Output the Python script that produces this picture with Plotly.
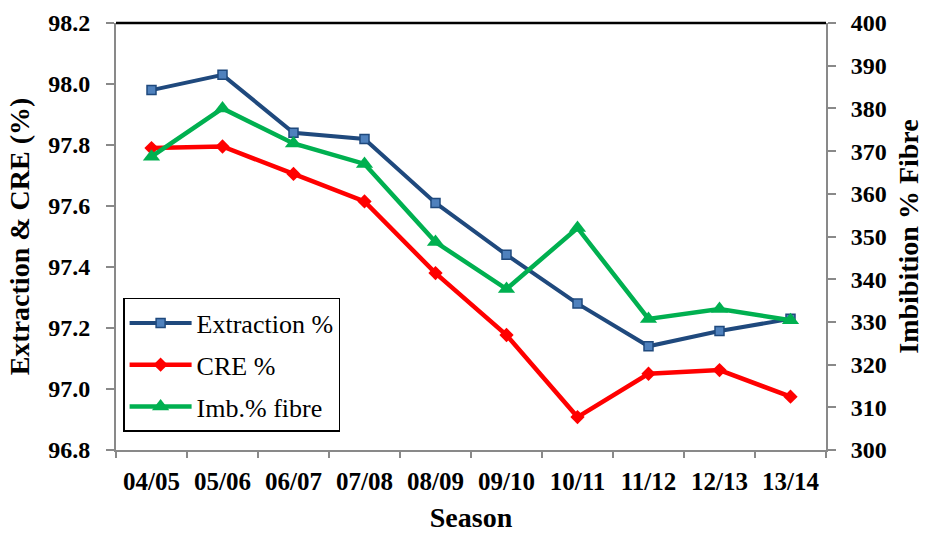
import plotly.graph_objects as go

seasons = ["04/05", "05/06", "06/07", "07/08", "08/09", "09/10", "10/11", "11/12", "12/13", "13/14"]
extraction = [97.98, 98.03, 97.84, 97.82, 97.61, 97.44, 97.28, 97.14, 97.19, 97.23]
cre = [97.79, 97.795, 97.705, 97.615, 97.38, 97.177, 96.908, 97.05, 97.062, 96.975]
imbibition = [368.7, 380.0, 371.8, 367.0, 348.7, 337.7, 352.0, 330.7, 333.0, 330.4]

serif = "Liberation Serif"
axis_grey = "#898989"

fig = go.Figure()
fig.add_trace(go.Scatter(
    x=seasons, y=extraction, name="Extraction %", mode="lines+markers", legendgroup="a",
    line=dict(color="#1F497D", width=4),
    marker=dict(symbol="square", size=9, color="#4F81BD", line=dict(color="#1F497D", width=1.5)),
))
fig.add_trace(go.Scatter(
    x=seasons, y=cre, name="CRE %", mode="lines+markers", legendgroup="b",
    line=dict(color="#FF0000", width=4.5),
    marker=dict(symbol="diamond", size=11, color="#FF0000"),
))
fig.add_trace(go.Scatter(
    x=seasons, y=imbibition, name="Imb.% fibre", mode="lines+markers", yaxis="y2", legendgroup="c",
    line=dict(color="#00B050", width=4.5),
    marker=dict(symbol="triangle-up", size=15, color="#00B050"),
))

tick_font = dict(family=serif, size=24, color="black", weight="bold")

fig.update_layout(
    width=925, height=533,
    margin=dict(l=116, r=99, t=23, b=83),
    plot_bgcolor="white", paper_bgcolor="white",
    font=dict(family=serif, color="black"),
    showlegend=True,
    legend=dict(
        x=0.01, y=0.356, xanchor="left", yanchor="top",
        bordercolor="black", borderwidth=1.5, bgcolor="white",
        font=dict(family=serif, size=26, color="black"),
        traceorder="grouped", tracegroupgap=5, itemwidth=62,
    ),
    xaxis=dict(
        type="category", range=[-0.5, 9.5], automargin=False,
        showline=True, linecolor=axis_grey, linewidth=2,
        ticks="outside", tickson="boundaries", ticklen=6, tickcolor=axis_grey, tickwidth=1.5,
        showgrid=False, zeroline=False, ticklabelstandoff=8,
        tickfont=dict(family=serif, size=25, color="black", weight="bold"),
        title=dict(text="<b>Season</b>", font=dict(family=serif, size=28), standoff=17),
    ),
    yaxis=dict(
        range=[96.8, 98.2], dtick=0.2, tickformat=".1f", automargin=False,
        showline=True, linecolor=axis_grey, linewidth=2,
        ticks="outside", ticklen=8, tickcolor=axis_grey, tickwidth=1.5,
        showgrid=False, zeroline=False, ticklabelstandoff=11,
        tickfont=tick_font,
        title=dict(text="<b>Extraction & CRE (%)</b>", font=dict(family=serif, size=28), standoff=10),
    ),
    yaxis2=dict(
        range=[300, 400], dtick=10, overlaying="y", side="right", automargin=False,
        showline=True, linecolor=axis_grey, linewidth=2,
        ticks="outside", ticklen=8, tickcolor=axis_grey, tickwidth=1.5,
        showgrid=False, zeroline=False, ticklabelstandoff=10,
        tickfont=tick_font,
        title=dict(text="<b>Imbibition % Fibre</b>", font=dict(family=serif, size=28), standoff=13),
    ),
    shapes=[dict(type="line", xref="paper", yref="paper", x0=0, x1=1, y0=1, y1=1,
                 line=dict(color="black", width=2.5))],
)

fig.write_html("out.html")
